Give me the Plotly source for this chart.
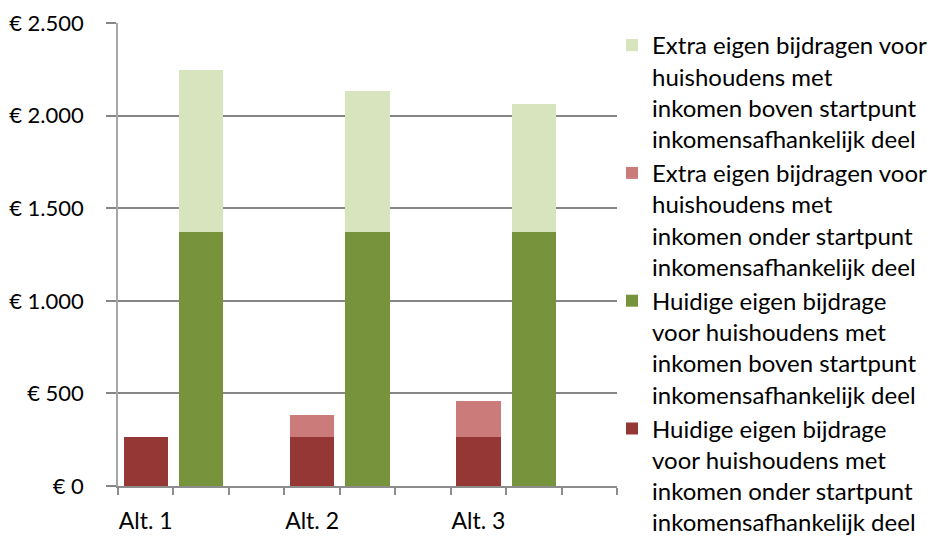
import plotly.graph_objects as go

# 9 category slots: Alt. 1, gap, gap, Alt. 2 ... (red bar slot, green bar slot, empty slot per alternative)
slots = [1, 2, 3, 4, 5, 6, 7, 8, 9]
alt_labels = ["Alt. 1", "Alt. 2", "Alt. 3"]
alt_label_pos = [1, 4, 7]

huidig_onder = [265, None, None, 265, None, None, 265, None, None]
huidig_boven = [None, 1370, None, None, 1370, None, None, 1370, None]
extra_onder = [0, None, None, 118, None, None, 195, None, None]
extra_boven = [None, 875, None, None, 765, None, None, 690, None]

names = {
    "huidig_onder": "Huidige eigen bijdrage<br>voor huishoudens met<br>inkomen onder startpunt<br>inkomensafhankelijk deel",
    "huidig_boven": "Huidige eigen bijdrage<br>voor huishoudens met<br>inkomen boven startpunt<br>inkomensafhankelijk deel",
    "extra_onder": "Extra eigen bijdragen voor<br>huishoudens met<br>inkomen onder startpunt<br>inkomensafhankelijk deel",
    "extra_boven": "Extra eigen bijdragen voor<br>huishoudens met<br>inkomen boven startpunt<br>inkomensafhankelijk deel",
}

y_ticks = [0, 500, 1000, 1500, 2000, 2500]
y_ticktext = ["€ 0", "€ 500", "€ 1.000", "€ 1.500", "€ 2.000", "€ 2.500"]

FONT = "Lato"

fig = go.Figure()
fig.add_trace(go.Bar(x=slots, y=huidig_onder, name=names["huidig_onder"], marker_color="#953735"))
fig.add_trace(go.Bar(x=slots, y=huidig_boven, name=names["huidig_boven"], marker_color="#77933C"))
fig.add_trace(go.Bar(x=slots, y=extra_onder, name=names["extra_onder"], marker_color="#CC7B7B"))
fig.add_trace(go.Bar(x=slots, y=extra_boven, name=names["extra_boven"], marker_color="#D7E4BD"))

fig.update_traces(marker_line_width=0, hoverinfo="skip")

fig.update_layout(
    width=936, height=542,
    barmode="stack", bargap=0.2,
    plot_bgcolor="white", paper_bgcolor="white",
    margin=dict(l=110, r=327, t=15, b=64, autoexpand=False),
    font=dict(family=FONT, size=23, color="#000000"),
    legend=dict(
        x=0.99, xanchor="left", y=1.0, yanchor="top",
        traceorder="reversed", valign="top",
        font=dict(family=FONT, size=24, color="#000000"),
        itemwidth=30, tracegroupgap=0,
        bgcolor="rgba(0,0,0,0)",
        maxheight=560,
    ),
    xaxis=dict(
        range=[0.5, 9.5], automargin=False,
        tickmode="array", tickvals=alt_label_pos, ticktext=alt_labels,
        ticks="", showgrid=False, zeroline=False,
        showline=True, linecolor="#8C8C8C", linewidth=1.5,
        tickfont=dict(family=FONT, size=23),
        minor=dict(ticks="outside", tick0=0.5, dtick=1, ticklen=7,
                   tickcolor="#8C8C8C", tickwidth=1.5, showgrid=False),
        ticklabelstandoff=14,
        ticklabeloverflow="allow",
    ),
    yaxis=dict(
        range=[0, 2500], automargin=False,
        tickmode="array", tickvals=y_ticks, ticktext=y_ticktext,
        showgrid=True, gridcolor="#868686", gridwidth=1.5,
        zeroline=False,
        showline=True, linecolor="#A6A6A6", linewidth=1.5,
        ticks="outside", ticklen=10, tickcolor="#868686", tickwidth=1.5,
        tickfont=dict(family=FONT, size=22),
        ticklabelstandoff=18,
        ticklabeloverflow="allow",
    ),
)

fig.write_html("out.html")
